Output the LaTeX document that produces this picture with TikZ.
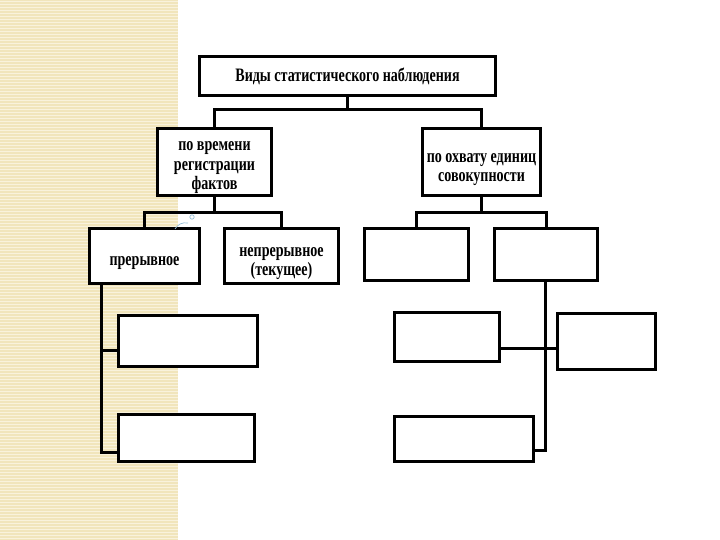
\documentclass[tikz,border=0pt]{standalone}
\usepackage{fontspec}
\setmainfont{Liberation Serif}[FakeStretch=0.74]
\usepackage{xcolor}
\usepackage{tikz}
\usetikzlibrary{calc}
\definecolor{sand}{RGB}{241,229,188}
\definecolor{sandlight}{RGB}{249,242,220}
\definecolor{handle}{RGB}{150,190,215}
\newcommand{\lift}[1][24pt]{\rule{0pt}{#1}}
\tikzstyle{kind}=[draw, line width=3.2pt, fill=white, text centered,
  align=center, inner ysep=1pt, font=\fontsize{19}{19.5}\selectfont\bfseries]
\tikzstyle{link}=[line width=3pt, line join=miter]

\begin{document}
\begin{tikzpicture}[x=1pt, y=-1pt]
  \useasboundingbox (0,0) rectangle (720,540);
  \fill[white] (0,0) rectangle (720,540);
  \fill[sand] (0,0) rectangle (178,540);
  \foreach \y in {1,4,...,540}
    \fill[sandlight] (0,\y) rectangle (178,\y+1);

  \node(vidy)[kind, minimum width=296pt, minimum height=39pt] at (347.5,76)
    {Виды статистического наблюдения};

  \path(vidy.center)+(-133,86) node(time)[kind, minimum width=114pt,
    minimum height=67pt]{\lift[20.5pt]по времени\\регистрации\\фактов};
  \path(vidy.center)+(134,86) node(cover)[kind, minimum width=118pt,
    minimum height=67pt]{\lift по охвату единиц\\совокупности};
  \coordinate (j1) at (347.5,110);
  \draw[link] (vidy.south) -- (j1);
  \draw[link] (time.north) |- (j1) -| (cover.north);

  \path(time.center)+(-70,94) node(discr)[kind, minimum width=110pt,
    minimum height=55pt]{\lift прерывное};
  \path(time.center)+(67,94) node(cont)[kind, minimum width=114pt,
    minimum height=55pt]{\lift непрерывное\\(текущее)};
  \coordinate (j2) at (214.5,213);
  \draw[link] (time.south) -- (j2);
  \draw[link] (discr.north) |- (j2) -| (cont.north);

  \path(cover.center)+(-65,92.5) node(coverA)[kind, minimum width=104pt,
    minimum height=52pt]{};
  \path(cover.center)+(64.5,92.5) node(coverB)[kind, minimum width=103pt,
    minimum height=52pt]{};
  \coordinate (j3) at (481.5,213);
  \draw[link] (cover.south) -- (j3);
  \draw[link] (coverA.north) |- (j3) -| (coverB.north);

  \path(discr.center)+(43.5,85) node(discrA)[kind, minimum width=139pt,
    minimum height=51pt]{};
  \path(discr.center)+(42,182) node(discrB)[kind, minimum width=136pt,
    minimum height=47pt]{};
  \coordinate (d1) at (101,350);
  \coordinate (d2) at (101,452);
  \draw[link] (discr.south -| d1) -- (d2) -- (d2 -| discrB.west);
  \draw[link] (d1) -- (d1 -| discrA.west);

  \path(coverB.center)+(-99,82.5) node(coverC)[kind, minimum width=105pt,
    minimum height=49pt]{};
  \path(coverB.center)+(60.5,87) node(coverD)[kind, minimum width=98pt,
    minimum height=56pt]{};
  \path(coverB.center)+(-82,184.5) node(coverE)[kind, minimum width=139pt,
    minimum height=45pt]{};
  \coordinate (c1) at (545,348);
  \coordinate (c2) at (545,450);
  \draw[link] (coverB.south -| c2) -- (c2) -- (c2 -| coverE.east);
  \draw[link] (coverC.east |- c1) -- (coverD.west |- c1);

  \draw[handle, line width=0.7pt] (192,217) circle (2.2);
  \draw[handle, line width=0.7pt] (175,229) to[bend left=35] (188,223);
\end{tikzpicture}
\end{document}
